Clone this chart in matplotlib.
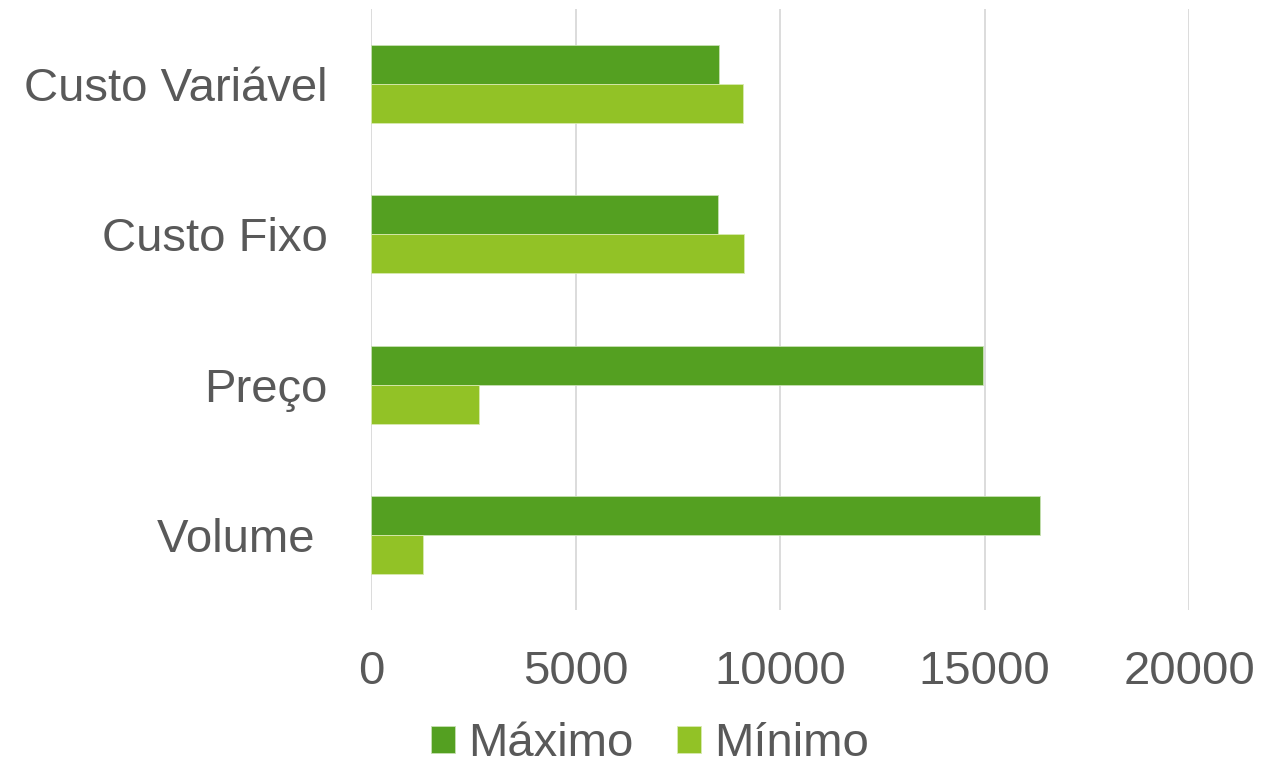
import matplotlib.pyplot as plt
import numpy as np

plt.rcParams['font.family'] = ['Liberation Sans', 'DejaVu Sans']

# categories listed bottom to top, as drawn
categorias = ['Volume ', 'Preço', 'Custo Fixo', 'Custo Variável']
maximo = [16345, 14970, 8494, 8519]
minimo = [1273, 2644, 9124, 9106]
ticks_x = [0, 5000, 10000, 15000, 20000]

cor_max = '#54A021'
cor_min = '#92C226'
cor_texto = '#595959'

fig = plt.figure(figsize=(12.63, 7.62), dpi=100)
ax = fig.add_axes([371 / 1263, 1 - 610 / 762, (1189 - 371) / 1263, 601 / 762])

y = np.arange(len(categorias))
h = 0.26
ax.barh(y + h / 2, maximo, height=h, color=cor_max, edgecolor='#C8E0B4',
        linewidth=0.6, label='Máximo', zorder=3)
ax.barh(y - h / 2, minimo, height=h, color=cor_min, edgecolor='#D8EAB0',
        linewidth=0.6, label='Mínimo', zorder=3)

ax.set_xlim(0, 20000)
ax.set_ylim(-0.5, 3.5)
ax.set_xticks(ticks_x)
ax.set_xticklabels([str(t) for t in ticks_x])
ax.set_yticks(y)
ax.set_yticklabels(categorias)

for s in ax.spines.values():
    s.set_visible(False)
ax.grid(axis='x', color='#D9D9D9', linewidth=1.3, zorder=0)
ax.tick_params(axis='both', length=0, labelsize=34, labelcolor=cor_texto)
ax.tick_params(axis='x', pad=29)
ax.tick_params(axis='y', pad=31)

# legend sits low, partly cut by the figure edge as in the original
fig.legend(loc='center', bbox_to_anchor=(650 / 1263, 1 - 744 / 762), ncol=2,
           frameon=False, fontsize=34, labelcolor=cor_texto,
           handlelength=0.51, handleheight=0.51, handletextpad=0.28,
           columnspacing=0.9, borderpad=0, borderaxespad=0)

fig.savefig('out.png', dpi=100)
